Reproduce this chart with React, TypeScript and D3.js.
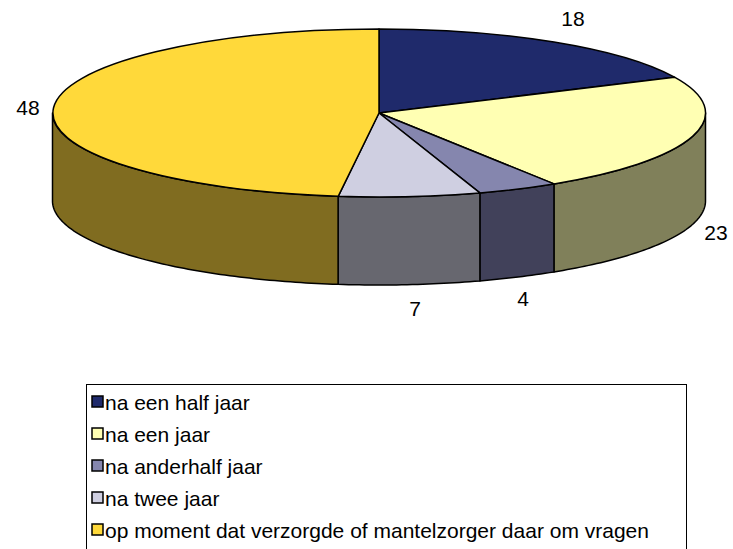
import { pie, arc, line, range } from 'd3'

// 3D-looking pie (Excel style): top faces via d3.arc on a unit circle scaled
// into an ellipse, front walls sampled along the ellipse with d3.line.

const categories = [
  'na een half jaar',
  'na een jaar',
  'na anderhalf jaar',
  'na twee jaar',
  'op moment dat verzorgde of mantelzorger daar om vragen',
]
const values = [18, 23, 4, 7, 48]
const topColors = ['#1F2A6B', '#FFFFB3', '#8586AE', '#CFCFE1', '#FFD93A']
const sideColors = ['#101535', '#80805A', '#41415A', '#67676F', '#806C20']

const W = 733
const H = 549
const cx = 379
const cy = 113
const rx = 326.5
const ry = 84
const depth = 88
const FONT = 'Arial, "Liberation Sans", sans-serif'

// label spots (centre of text)
const labelPos = [
  [573, 18],
  [716, 232],
  [523, 298],
  [415, 308],
  [28, 107],
]

const px = (a: number) => cx + rx * Math.sin(a)
const py = (a: number) => cy - ry * Math.cos(a)

export default function App() {
  const slices = pie<number>().sort(null).value((d) => d)(values)
  const top = arc<any>().innerRadius(0).outerRadius(1)
  const pts = line<[number, number]>()

  // visible front half: angles PI/2 .. 3PI/2 (clockwise from 12 o'clock)
  const sides = slices
    .map((s, i) => {
      const a0 = Math.max(s.startAngle, Math.PI / 2)
      const a1 = Math.min(s.endAngle, (3 * Math.PI) / 2)
      if (a1 <= a0) return null
      const n = Math.max(4, Math.ceil((a1 - a0) * 60))
      const angs = range(n + 1).map((k) => a0 + ((a1 - a0) * k) / n)
      const upper = angs.map((a) => [px(a), py(a)] as [number, number])
      const lower = angs
        .slice()
        .reverse()
        .map((a) => [px(a), py(a) + depth] as [number, number])
      return { i, d: pts([...upper, ...lower]) + 'Z' }
    })
    .filter(Boolean) as { i: number; d: string }[]

  const legX = 86
  const legY = 384
  const rowH = 32

  return (
    <svg
      width={W}
      height={H}
      viewBox={`0 0 ${W} ${H}`}
      style={{ position: 'absolute', left: 0, top: 0, background: '#fff' }}
      fontFamily={FONT}
    >
      {sides.map((s) => (
        <path key={'s' + s.i} d={s.d} fill={sideColors[s.i]} stroke="#000" strokeWidth={1.5} strokeLinejoin="round" />
      ))}
      <g transform={`translate(${cx},${cy}) scale(${rx},${ry})`}>
        {slices.map((s, i) => (
          <path
            key={'t' + i}
            d={top(s) ?? ''}
            fill={topColors[i]}
            stroke="#000"
            strokeWidth={1.5}
            strokeLinejoin="round"
            vectorEffect="non-scaling-stroke"
          />
        ))}
      </g>
      {values.map((v, i) => (
        <text
          key={'l' + i}
          x={labelPos[i][0]}
          y={labelPos[i][1]}
          textAnchor="middle"
          dominantBaseline="central"
          fontSize={21}
          fill="#000"
        >
          {v}
        </text>
      ))}
      <rect x={legX + 0.5} y={legY + 0.5} width={600} height={H} fill="#fff" stroke="#000" strokeWidth={1} />
      {categories.map((c, i) => (
        <g key={'g' + i} transform={`translate(${legX},${legY + 18 + i * rowH})`}>
          <rect x={6} y={-6} width={11} height={11} fill={topColors[i]} stroke="#000" strokeWidth={1.5} />
          <text x={19} y={0} dominantBaseline="central" fontSize={21} fill="#000">
            {c}
          </text>
        </g>
      ))}
    </svg>
  )
}
